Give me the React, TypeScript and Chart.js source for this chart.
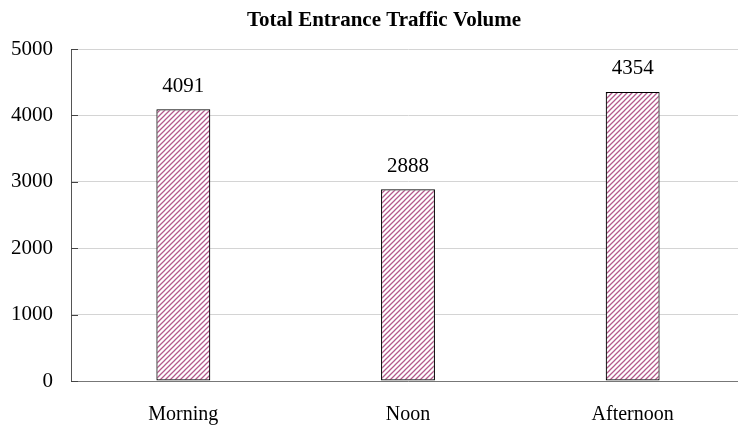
import { useEffect, useRef } from "react";
import { Chart, registerables } from "chart.js";

Chart.register(...registerables);

const chartTitle = "Total Entrance Traffic Volume";
const categories = ["Morning", "Noon", "Afternoon"];
const volumes = [4091, 2888, 4354];
const yMin = 0;
const yMax = 5000;
const yStep = 1000;

const SERIF = "'Liberation Serif', 'Times New Roman', serif";

// Diagonal "/" hatch used to fill the bars
function makeHatch(): CanvasPattern | string {
  const tile = document.createElement("canvas");
  tile.width = 5;
  tile.height = 5;
  const g = tile.getContext("2d");
  if (!g) return "#c06090";
  g.fillStyle = "#ffffff";
  g.fillRect(0, 0, 5, 5);
  g.strokeStyle = "#b45a8c";
  g.lineWidth = 1.25;
  g.beginPath();
  g.moveTo(-1, 6);
  g.lineTo(6, -1);
  g.moveTo(-1, 1);
  g.lineTo(1, -1);
  g.moveTo(4, 6);
  g.lineTo(6, 4);
  g.stroke();
  const p = g.createPattern(tile, "repeat");
  return p || "#c06090";
}

const titlePlugin = {
  id: "chartTitleText",
  afterDraw(chart: any) {
    const ctx = chart.ctx;
    ctx.save();
    ctx.font = `bold 21px ${SERIF}`;
    ctx.fillStyle = "#000";
    ctx.textAlign = "center";
    ctx.textBaseline = "middle";
    ctx.fillText(chartTitle, 384, 21);
    ctx.restore();
  },
};

// Short inward tick marks on the value axis
const innerTicksPlugin = {
  id: "innerTicks",
  afterDraw(chart: any) {
    const ctx = chart.ctx;
    const y = chart.scales.y;
    const left = chart.chartArea.left;
    ctx.save();
    ctx.strokeStyle = "#444";
    ctx.lineWidth = 1;
    y.ticks.forEach((t: any) => {
      const py = Math.round(y.getPixelForValue(t.value)) + 0.5;
      ctx.beginPath();
      ctx.moveTo(left, py);
      ctx.lineTo(left + 7, py);
      ctx.stroke();
    });
    ctx.restore();
  },
};

// Value labels above each bar
const valueLabelsPlugin = {
  id: "valueLabels",
  afterDatasetsDraw(chart: any) {
    const ctx = chart.ctx;
    const meta = chart.getDatasetMeta(0);
    ctx.save();
    ctx.font = `21px ${SERIF}`;
    ctx.fillStyle = "#000";
    ctx.textAlign = "center";
    ctx.textBaseline = "middle";
    meta.data.forEach((bar: any, i: number) => {
      ctx.fillText(String(volumes[i]), bar.x, bar.y - 23);
    });
    ctx.restore();
  },
};

export default function App() {
  const ref = useRef<HTMLCanvasElement | null>(null);

  useEffect(() => {
    if (!ref.current) return;
    const chart = new Chart(ref.current, {
      type: "bar",
      data: {
        labels: categories,
        datasets: [
          {
            data: volumes,
            backgroundColor: makeHatch() as any,
            borderColor: "#000",
            borderWidth: 1.2,
            borderSkipped: false,
            categoryPercentage: 1,
            barPercentage: 0.24,
          },
        ],
      },
      options: {
        responsive: false,
        animation: false,
        devicePixelRatio: 1,
        layout: { padding: { top: 49, right: 0, bottom: 0, left: 0 } },
        plugins: {
          legend: { display: false },
          title: { display: false },
          tooltip: { enabled: false },
        },
        scales: {
          x: {
            grid: { display: false, drawTicks: false },
            border: { display: true, color: "#777", width: 1 },
            ticks: {
              color: "#000",
              font: { family: SERIF, size: 20 },
              padding: 22,
              maxRotation: 0,
            },
            afterFit(scale: any) {
              scale.height = 45;
            },
          },
          y: {
            min: yMin,
            max: yMax,
            grid: { color: "#d4d4d4", drawTicks: false, lineWidth: 1 },
            border: { display: true, color: "#555", width: 1 },
            ticks: {
              stepSize: yStep,
              color: "#000",
              font: { family: SERIF, size: 21 },
              padding: 18,
              callback: (v: any) => String(v),
            },
            afterFit(scale: any) {
              scale.width = 71;
            },
          },
        },
      },
      plugins: [titlePlugin, innerTicksPlugin, valueLabelsPlugin],
    });
    return () => chart.destroy();
  }, []);

  return (
    <div
      style={{
        position: "fixed",
        left: 0,
        top: 0,
        width: 738,
        height: 426,
        overflow: "hidden",
        background: "#fff",
      }}
    >
      <canvas ref={ref} width={745} height={426} style={{ display: "block" }} />
    </div>
  );
}
